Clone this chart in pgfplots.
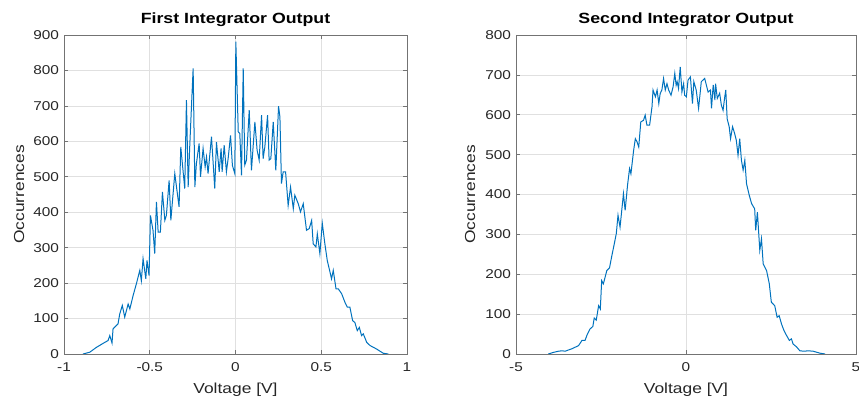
\documentclass[border=0pt]{standalone}
\usepackage{pgfplots}
\pgfplotsset{compat=1.18}
\usepackage{fontspec}
\setmainfont{Liberation Sans}[FakeStretch=1.2]
\definecolor{mblue}{RGB}{0,114,189}
\definecolor{mtext}{RGB}{38,38,38}
\pgfplotsset{
  mstyle/.style={
    scale only axis,
    height=319pt,
    ymin=0,
    axis line style={black!55, line width=0.8pt},
    major tick style={black!55, line width=0.6pt},
    major tick length=4pt,
    tick align=inside,
    grid=major,
    major grid style={black!12, line width=0.7pt},
    /pgf/number format/assume math mode=true,
    ticklabel style={font=\fontsize{12.8}{14}\selectfont, text=mtext},
    xticklabel style={yshift=-5pt},
    yticklabel style={xshift=-1.5pt},
    label style={font=\fontsize{14.5}{16}\selectfont, text=mtext},
    title style={font=\fontsize{14.8}{16}\selectfont\bfseries, text=black, at={(axis description cs:0.5,1.028)}, anchor=center},
    xlabel style={at={(axis description cs:0.5,-0.113)}, anchor=center},
    scaled ticks=false,
  }
}
\begin{document}
\begin{tikzpicture}
\path[use as bounding box] (0,0) rectangle (859pt,403pt);
\begin{axis}[mstyle,
  at={(64pt,49pt)}, anchor=south west,
  width=343pt,
  xmin=-1, xmax=1, ymax=900,
  xtick={-1,-0.5,0,0.5,1},
  xticklabels={-1,-0.5,0,0.5,1},
  ytick={0,100,...,900},
  title={First Integrator Output},
  xlabel={Voltage [V]},
  ylabel={Occurrences},
  ylabel style={at={(axis description cs:-0.131,0.5)}, anchor=center},
]
\addplot[mblue, line width=1pt] coordinates {
(-0.889,0) (-0.85,5) (-0.81,19) (-0.772,30) (-0.743,38) (-0.733,52) (-0.72,31)
(-0.714,71) (-0.685,85) (-0.675,113) (-0.66,137) (-0.646,104) (-0.626,141)
(-0.616,127) (-0.597,165) (-0.578,198) (-0.558,236) (-0.549,207) (-0.539,269)
(-0.523,212) (-0.516,264) (-0.504,221) (-0.496,391) (-0.481,349) (-0.471,283)
(-0.461,429) (-0.451,344) (-0.438,344) (-0.426,457) (-0.412,377) (-0.403,391)
(-0.387,490) (-0.377,377) (-0.368,429) (-0.354,509) (-0.329,415) (-0.319,584)
(-0.296,467) (-0.286,716) (-0.276,471) (-0.267,584) (-0.247,806) (-0.237,471)
(-0.228,537) (-0.212,594) (-0.204,500) (-0.189,580) (-0.177,528) (-0.169,556)
(-0.160,509) (-0.140,613) (-0.121,467) (-0.111,598) (-0.095,514) (-0.084,580)
(-0.078,514) (-0.066,589) (-0.053,514) (-0.043,551) (-0.029,617) (-0.018,532)
(-0.004,509) (0.002,881) (0.016,627) (0.025,622) (0.035,504) (0.045,806)
(0.054,533) (0.064,547) (0.08,688) (0.093,518) (0.113,655) (0.126,575)
(0.138,547) (0.152,674) (0.161,551) (0.171,584) (0.187,674) (0.196,547)
(0.206,551) (0.22,655) (0.235,518) (0.251,699) (0.259,669) (0.268,481)
(0.278,514) (0.292,514) (0.307,419) (0.321,471) (0.337,410) (0.346,448)
(0.366,424) (0.379,401) (0.395,424) (0.414,349) (0.430,354) (0.444,377)
(0.453,311) (0.469,302) (0.477,339) (0.492,283) (0.506,369) (0.521,311)
(0.535,264) (0.551,231) (0.56,212) (0.57,236) (0.586,184) (0.599,184)
(0.619,170) (0.638,146) (0.652,132) (0.667,132) (0.683,94) (0.696,89)
(0.710,66) (0.722,75) (0.735,52) (0.745,57) (0.765,33) (0.784,24)
(0.803,19) (0.823,14) (0.842,8) (0.862,2) (0.891,0)
};
\end{axis}
\begin{axis}[mstyle,
  at={(516pt,49pt)}, anchor=south west,
  width=340pt,
  xmin=-5, xmax=5, ymax=800,
  xtick={-5,0,5},
  ytick={0,100,...,800},
  title={Second Integrator Output},
  xlabel={Voltage [V]},
  ylabel={Occurrences},
  ylabel style={at={(axis description cs:-0.135,0.5)}, anchor=center},
]
\addplot[mblue, line width=1pt] coordinates {
(-4.05,0) (-3.90,4) (-3.75,7) (-3.65,8) (-3.55,7) (-3.46,10) (-3.36,13)
(-3.26,17) (-3.16,21) (-3.06,34) (-2.97,34) (-2.90,50) (-2.82,63) (-2.74,69)
(-2.70,90) (-2.64,85) (-2.57,121) (-2.52,113) (-2.48,184) (-2.43,176)
(-2.33,209) (-2.25,216) (-2.18,247) (-2.11,276) (-2.05,302) (-2.00,348)
(-1.94,318) (-1.84,402) (-1.79,360) (-1.72,423) (-1.66,465) (-1.62,452)
(-1.54,511) (-1.49,540) (-1.44,532) (-1.39,519) (-1.33,582) (-1.25,586)
(-1.20,599) (-1.15,574) (-1.07,574) (-1.00,620) (-0.97,662) (-0.90,645)
(-0.85,662) (-0.80,628) (-0.76,653) (-0.71,662) (-0.66,691) (-0.61,662)
(-0.56,678) (-0.51,662) (-0.44,649) (-0.38,670) (-0.33,704) (-0.29,674)
(-0.26,683) (-0.22,666) (-0.17,720) (-0.12,657) (-0.07,678) (-0.04,649)
(0.01,645) (0.06,687) (0.13,695) (0.19,628) (0.23,683) (0.30,662)
(0.37,616) (0.45,683) (0.55,691) (0.65,657) (0.72,662) (0.75,616)
(0.80,675) (0.85,637) (0.87,678) (0.92,641) (0.99,654) (1.04,624)
(1.09,611) (1.14,645) (1.17,662) (1.21,590) (1.27,570) (1.31,540)
(1.37,570) (1.43,553) (1.48,536) (1.53,498) (1.58,540) (1.63,486)
(1.68,461) (1.73,486) (1.78,427) (1.86,398) (1.93,377) (2.02,364)
(2.05,310) (2.10,356) (2.17,260) (2.22,289) (2.27,226) (2.37,209)
(2.45,176) (2.51,130) (2.61,121) (2.68,92) (2.74,96) (2.81,75)
(2.88,59) (2.96,46) (3.04,34) (3.10,38) (3.15,25) (3.25,18)
(3.35,8) (3.47,7) (3.60,8) (3.74,7) (3.86,4) (3.94,2) (4.09,0)
};
\end{axis}
\end{tikzpicture}
\end{document}
